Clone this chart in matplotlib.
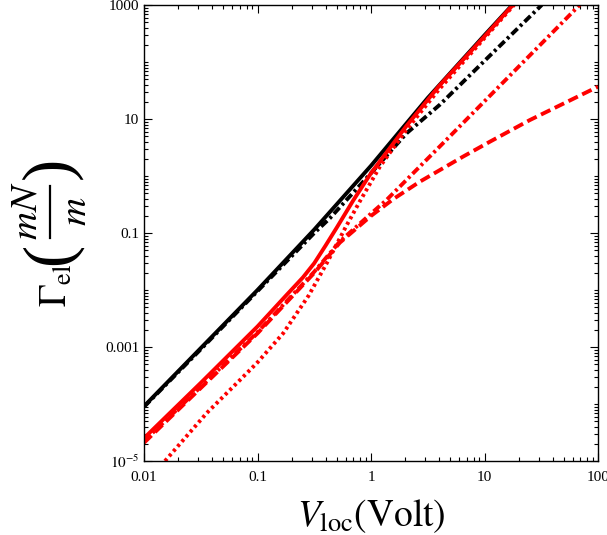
import matplotlib
matplotlib.use("Agg")
import matplotlib.pyplot as plt
import numpy as np
from matplotlib.lines import Line2D
from matplotlib.ticker import FixedLocator, FixedFormatter, LogLocator, NullFormatter

plt.rcParams['font.family'] = ['Liberation Serif', 'DejaVu Serif']
plt.rcParams['mathtext.fontset'] = 'stix'
plt.rcParams['lines.scale_dashes'] = False

# ---- data (log10 V, log10 Gamma) ----
black_solid_lx = [-2.0, -1.5, -1.0, -0.5, 0.0, 0.5, 1.0, 1.245]
black_solid_ly = [-4.04, -3.02, -2.0, -0.94, 0.18, 1.37, 2.47, 3.0]

black_dashdot_lx = [-2.0, -1.5, -1.0, -0.5, -0.363, 0.0, 0.313, 0.606, 1.0, 1.504]
black_dashdot_ly = [-4.05, -3.04, -2.02, -1.0, -0.742, 0.05, 0.749, 1.25, 2.02, 3.0]

red_solid_lx = [-2.0, -1.5, -1.0, -0.75, -0.6, -0.5, -0.4, -0.3, -0.157, 0.0, 0.313, 0.6, 1.0, 1.25]
red_solid_ly = [-4.60, -3.63, -2.64, -2.1, -1.78, -1.53, -1.22, -0.9, -0.43, 0.05, 0.88, 1.58, 2.45, 3.0]

red_dotted_lx = [-1.815, -1.448, -1.155, -1.0, -0.774, -0.55, -0.39, -0.216, -0.1, 0.077, 0.3, 0.6, 1.0, 1.26]
red_dotted_ly = [-5.0, -4.16, -3.58, -3.27, -2.76, -2.1, -1.53, -0.87, -0.45, 0.16, 0.78, 1.52, 2.42, 3.0]

red_dashed_lx = [-2.0, -1.5, -1.0, -0.5, -0.275, 0.0, 0.2, 0.43, 0.811, 1.046, 1.398, 2.0]
red_dashed_ly = [-4.68, -3.72, -2.76, -1.7, -1.17, -0.7, -0.4, -0.1, 0.34, 0.6, 0.98, 1.567]

red_dashdot_lx = [-2.0, -1.5, -1.0, -0.5, -0.275, 0.0, 0.137, 0.663, 1.838]
red_dashdot_ly = [-4.65, -3.7, -2.74, -1.68, -1.15, -0.66, -0.42, 0.632, 3.0]

xtick_vals = [0.01, 0.1, 1, 10, 100]
xtick_labels = ['0.01', '0.1', '1', '10', '100']
ytick_vals = [1e-5, 1e-3, 0.1, 10, 1000]
ytick_labels = [r'$10^{-5}$', '0.001', '0.1', '10', '1000']

W, H = 607, 535
fig = plt.figure(figsize=(W/100, H/100), dpi=100)
ax = fig.add_axes([144/W, 1-461/H, (598-144)/W, (461-5)/H])

def P(lx, ly):
    return 10**np.asarray(lx), 10**np.asarray(ly)

lw = 2.8
ax.plot(*P(black_solid_lx, black_solid_ly), color='black', lw=lw)
ax.plot(*P(black_dashdot_lx, black_dashdot_ly), color='black', lw=lw,
        dashes=(6, 2.5, 2, 2.5))
ax.plot(*P(red_dashed_lx, red_dashed_ly), color='red', lw=lw, dashes=(7.5, 3.5))
ax.plot(*P(red_dashdot_lx, red_dashdot_ly), color='red', lw=lw,
        dashes=(6, 2.5, 2, 2.5))
ax.plot(*P(red_dotted_lx, red_dotted_ly), color='red', lw=lw, dashes=(2.2, 2.4))
ax.plot(*P(red_solid_lx, red_solid_ly), color='red', lw=lw)

ax.set_xscale('log')
ax.set_yscale('log')
ax.set_xlim(0.01, 100)
ax.set_ylim(1e-5, 1000)

ax.xaxis.set_major_locator(FixedLocator(xtick_vals))
ax.xaxis.set_major_formatter(FixedFormatter(xtick_labels))
ax.yaxis.set_major_locator(FixedLocator(ytick_vals))
ax.yaxis.set_major_formatter(FixedFormatter(ytick_labels))
ax.xaxis.set_minor_locator(LogLocator(base=10, subs=np.arange(2, 10), numticks=20))
ax.yaxis.set_minor_locator(LogLocator(base=10, subs=np.arange(1, 10), numticks=20))
ax.xaxis.set_minor_formatter(NullFormatter())
ax.yaxis.set_minor_formatter(NullFormatter())

ax.tick_params(which='both', direction='in', top=True, right=True, width=0.8,
               labelsize=11)
ax.tick_params(axis='x', which='major', pad=7)
ax.tick_params(which='major', length=6)
ax.tick_params(which='minor', length=3)
for s in ax.spines.values():
    s.set_linewidth(1.0)

ax.set_xlabel(r'$V_{\rm loc}(\rm Volt)$', fontsize=27, labelpad=10)

# y label built from pieces (rotated), Mathematica-style big parentheses
def ftext(px, py, s, size):
    fig.text(px/W, 1-py/H, s, rotation=90, ha='center', va='center', fontsize=size)

ftext(57, 285, r'$\Gamma_{\rm el}$', 27)
ftext(51, 254, '(', 48)
ftext(27, 211, r'$mN$', 28)
ftext(77, 211, r'$m$', 28)
ftext(51, 168, ')', 48)
fig.add_artist(Line2D([50/W, 50/W], [1-186/H, 1-238/H], transform=fig.transFigure,
                      color='black', lw=1.6))

fig.savefig('out.png', dpi=100)
